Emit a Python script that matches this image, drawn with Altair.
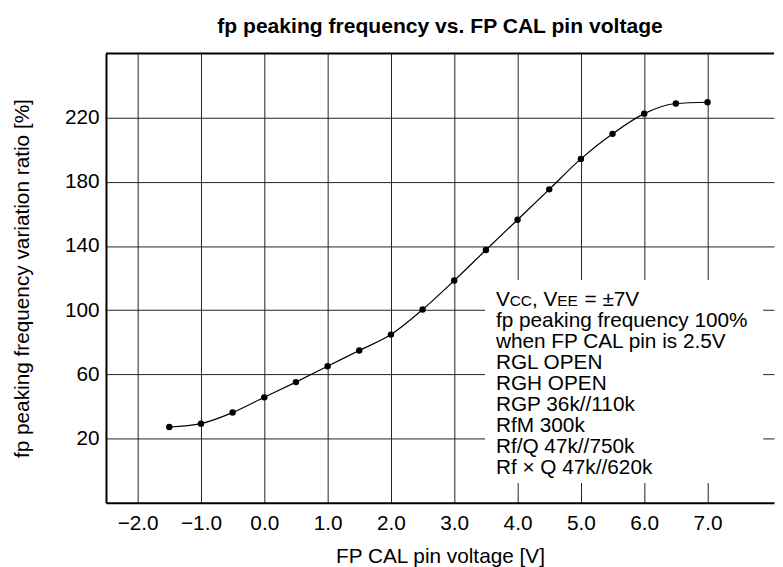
import altair as alt
import pandas as pd

# ---- data ----
voltage = [-1.5, -1.0, -0.5, 0.0, 0.5, 1.0, 1.5, 2.0, 2.5, 3.0, 3.5, 4.0, 4.5, 5.0, 5.5, 6.0, 6.5, 7.0]
ratio = [27.2, 29.3, 36.2, 45.7, 55.2, 65.1, 74.9, 84.8, 100.4, 118.5, 137.5, 156.4, 175.3, 194.3, 209.9, 222.5, 228.8, 229.6]
x_ticks = [-2.0, -1.0, 0.0, 1.0, 2.0, 3.0, 4.0, 5.0, 6.0, 7.0]
y_ticks = [20, 60, 100, 140, 180, 220]
note_lines = [
    "fp peaking frequency 100%",
    "when FP CAL pin is 2.5V",
    "RGL OPEN",
    "RGH OPEN",
    "RGP 36k//110k",
    "RfM 300k",
    "Rf/Q 47k//750k",
    "Rf \u00d7 Q 47k//620k",
]
# first line with small-caps subscripts: (text, font size, x offset)
first_line = [("V", 21, 0.0), ("CC", 15.5, 14.0), (", V", 21, 36.4), ("EE", 15.5, 62.1), ("= \u00b17V", 21, 89.5)]

FONT = "Liberation Sans"
W, H = 675, 454
FS = 21

df = pd.DataFrame({"v": voltage, "r": ratio})
one = pd.DataFrame({"k": [0]})

x_enc = alt.X(
    "v:Q",
    scale=alt.Scale(domain=[-2.5, 8.05], nice=False, zero=False),
    axis=alt.Axis(
        values=x_ticks,
        title="FP CAL pin voltage [V]",
        labelExpr="replace(format(datum.value, '.1f'), '-', '\u2212')",
        ticks=False,
        grid=True,
        gridColor="#222222",
        gridWidth=1,
        gridOpacity=1,
        domainColor="black",
        domainWidth=2,
        labelFontSize=FS,
        labelColor="black",
        titleFontSize=FS,
        titleFontWeight="normal",
        titleColor="black",
        labelPadding=10,
        titlePadding=12,
    ),
)
y_enc = alt.Y(
    "r:Q",
    scale=alt.Scale(domain=[-20, 260], nice=False, zero=False),
    axis=alt.Axis(
        values=y_ticks,
        title="fp peaking frequency variation ratio [%]",
        ticks=False,
        grid=True,
        gridColor="#222222",
        gridWidth=1,
        gridOpacity=1,
        domainColor="black",
        domainWidth=2,
        labelFontSize=FS,
        labelColor="black",
        titleFontSize=FS,
        titleFontWeight="normal",
        titleColor="black",
        labelPadding=7,
        titlePadding=32,
    ),
)

base = alt.Chart(df)
single = alt.Chart(one)

line = base.mark_line(interpolate="monotone", color="black", strokeWidth=1.2).encode(x=x_enc, y=y_enc)
pts = base.mark_circle(size=42, color="black", opacity=1).encode(x="v:Q", y="r:Q")

top_border = single.mark_rule(color="black", strokeWidth=2).encode(y=alt.value(0))

box = single.mark_rect(color="white").encode(
    x=alt.value(383), x2=alt.value(664), y=alt.value(229), y2=alt.value(434)
)

TX = 394
note = single.mark_text(
    text=note_lines, align="left", baseline="alphabetic", font=FONT, fontSize=FS,
    lineHeight=21.2, color="black"
).encode(x=alt.value(TX), y=alt.value(276.5))

first_layers = [
    single.mark_text(text=t, align="left", baseline="alphabetic", font=FONT, fontSize=s, color="black")
    .encode(x=alt.value(TX + dx), y=alt.value(255.3))
    for (t, s, dx) in first_line
]

chart = alt.layer(line, pts, top_border, box, note, *first_layers).properties(
    width=W,
    height=H,
    title=alt.TitleParams(
        "fp peaking frequency vs. FP CAL pin voltage",
        fontSize=21.3, fontWeight="bold", font=FONT, color="black", offset=15, anchor="middle",
    ),
    padding={"left": 3, "top": 5, "right": 0, "bottom": 0},
).configure(font=FONT).configure_view(stroke=None)

chart.save("out.html", embed_options={"renderer": "svg", "actions": False})
